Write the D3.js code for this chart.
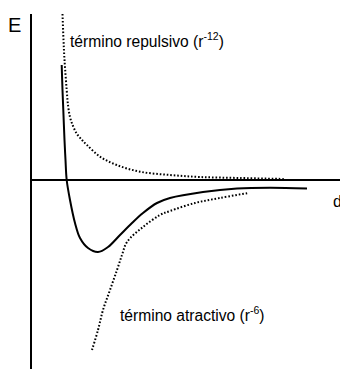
<!DOCTYPE html>
<html>
<head>
<meta charset="utf-8">
<script src="https://cdn.jsdelivr.net/npm/d3@7"></script>
<style>
  body { margin: 0; background: #fff; }
  svg text { font-family: Arial, "Liberation Sans", sans-serif; fill: #000; }
</style>
</head>
<body>
<div id="chart"></div>
<script>
// Lennard-Jones style potential (d in arbitrary units, E in arbitrary units)
const totalD = [0.307, 0.315, 0.323, 0.335, 0.345, 0.357, 0.39, 0.44, 0.49, 0.57, 0.67, 0.77, 0.89, 1.01, 1.12, 1.26, 1.39, 1.72, 2.06, 2.39, 2.76];
const totalE = [1.15, 0.90, 0.70, 0.40, 0.20, 0, -0.20, -0.43, -0.58, -0.68, -0.72, -0.67, -0.55, -0.43, -0.33, -0.23, -0.18, -0.12, -0.085, -0.077, -0.085];

// repulsive term (r^-12)
const repD = [0.315, 0.325, 0.332, 0.342, 0.357, 0.37, 0.39, 0.42, 0.46, 0.51, 0.56, 0.69, 0.857, 1.09, 1.39, 1.69, 2.09, 2.54];
const repE = [1.66, 1.40, 1.25, 1.10, 0.90, 0.75, 0.63, 0.54, 0.46, 0.40, 0.35, 0.233, 0.15, 0.083, 0.05, 0.03, 0.02, 0.01];

// attractive term (r^-6)
const attD = [0.61, 0.67, 0.72, 0.79, 0.86, 0.91, 0.96, 1.12, 1.29, 1.39, 1.64, 1.89, 2.17];
const attE = [-1.70, -1.50, -1.30, -1.10, -0.90, -0.75, -0.62, -0.47, -0.35, -0.31, -0.23, -0.18, -0.13];

const labels = {
  yAxis: "E",
  xAxis: "d",
  rep: "término repulsivo (r",
  repExp: "-12",
  att: "término atractivo (r",
  attExp: "-6"
};

const width = 340, height = 369;

const x = d3.scaleLinear().domain([0, 3.1]).range([31, 341]);
const y = d3.scaleLinear().domain([1.66, -1.89]).range([14, 369]);

const svg = d3.select("#chart")
  .append("svg")
  .attr("width", width)
  .attr("height", height);

// axes
svg.append("line")
  .attr("x1", x(0)).attr("x2", x(0))
  .attr("y1", y(1.66)).attr("y2", y(-1.89))
  .attr("stroke", "#000").attr("stroke-width", 2);

svg.append("line")
  .attr("x1", x(0)).attr("x2", x(3.1))
  .attr("y1", y(0)).attr("y2", y(0))
  .attr("stroke", "#000").attr("stroke-width", 2);

const line = d3.line()
  .x(d => x(d[0]))
  .y(d => y(d[1]))
  .curve(d3.curveCatmullRom.alpha(0.5));

const zip = (a, b) => a.map((v, i) => [v, b[i]]);

svg.append("path")
  .datum(zip(repD, repE))
  .attr("d", line)
  .attr("fill", "none")
  .attr("stroke", "#000")
  .attr("stroke-width", 2)
  .attr("stroke-dasharray", "1.6,1.9");

svg.append("path")
  .datum(zip(attD, attE))
  .attr("d", line)
  .attr("fill", "none")
  .attr("stroke", "#000")
  .attr("stroke-width", 2)
  .attr("stroke-dasharray", "1.6,1.9");

svg.append("path")
  .datum(zip(totalD, totalE))
  .attr("d", line)
  .attr("fill", "none")
  .attr("stroke", "#000")
  .attr("stroke-width", 2);

// labels
svg.append("text")
  .attr("x", 8).attr("y", 32)
  .style("font-size", "20px")
  .text(labels.yAxis);

svg.append("text")
  .attr("x", 333).attr("y", 207)
  .style("font-size", "16px")
  .text(labels.xAxis);

function termLabel(px, py, main, exp) {
  const t = svg.append("text")
    .attr("x", px).attr("y", py)
    .style("font-size", "15.6px");
  t.append("tspan").text(main);
  t.append("tspan").attr("dy", -7).style("font-size", "10.5px").text(exp);
  t.append("tspan").attr("dy", 7).text(")");
}

termLabel(70, 47, labels.rep, labels.repExp);
termLabel(120, 321, labels.att, labels.attExp);
</script>
</body>
</html>
